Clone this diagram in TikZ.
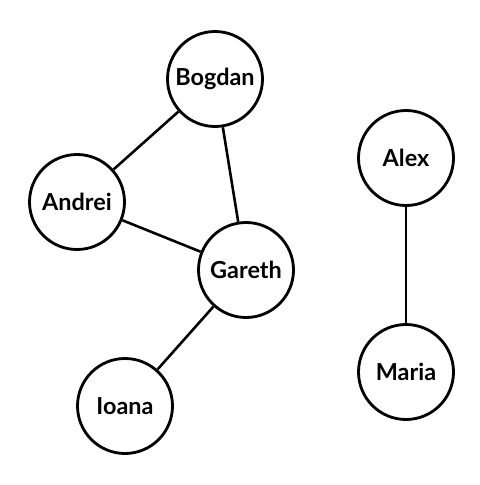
\documentclass[tikz,border=0pt]{standalone}
\usepackage{fontspec}
\setmainfont{Lato}
\usepackage{tikz}

\begin{document}
\begin{tikzpicture}[x=0.03cm,y=-0.03cm,
    person/.style={circle,draw=black,line width=2.4pt,minimum size=2.85cm,inner sep=0pt,font=\fontsize{20}{24}\selectfont\bfseries}]
    \useasboundingbox (0,0) rectangle (479,485);
    \node[person] (bogdan) at (215,79) {Bogdan};
    \node[person] (andrei) at (77,202) {Andrei};
    \node[person] (gareth) at (246,270) {Gareth};
    \node[person] (ioana) at (125,406) {Ioana};
    \node[person] (alex) at (406,158) {Alex};
    \node[person] (maria) at (406,372) {Maria};

    \path[every edge/.style={draw,black,line width=2.2pt}]
    (bogdan) edge (andrei)
    (bogdan) edge (gareth)
    (andrei) edge (gareth)
    (gareth) edge (ioana)
    (alex) edge (maria);
\end{tikzpicture}
\end{document}
